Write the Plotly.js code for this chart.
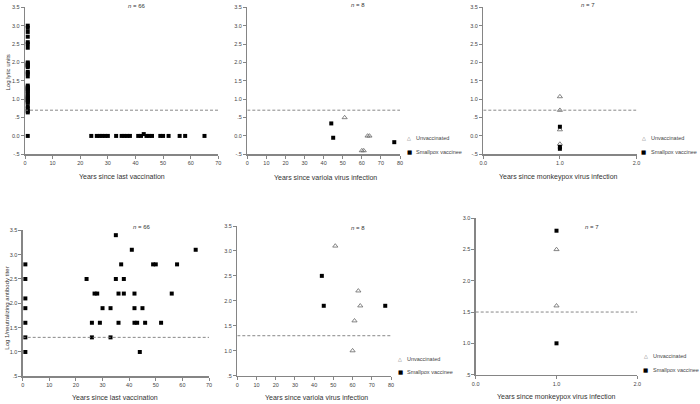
<!DOCTYPE html>
<html><head><meta charset="utf-8">
<script src="https://cdn.plot.ly/plotly-3.0.1.min.js"></script>
<style>html,body{margin:0;padding:0;background:#fff}#chart{width:700px;height:404px}</style>
</head><body><div id="chart"></div>
<script>
// ---- Data ----
// Panel A: vaccinees, log lytic units vs years since last vaccination
const vacLyticYears = [1,1,1,1,1,1,1,1,1,1,1,1,1,1,1,1,1,1,1,1,1,1,1,1,1,1,1,1,1,1,1,1,1,1,
  24,26,27,28,29,30,33,35,36,37,38,41,42,43,44,45,46,49,50,52,56,58,65];
const vacLyticVals = [3.0,2.94,2.83,2.7,2.55,2.5,2.4,2.0,1.97,1.93,1.9,1.87,1.74,1.7,1.62,
  1.37,1.33,1.3,1.27,1.23,1.2,1.15,1.1,1.07,1.03,1.0,0.97,0.93,0.9,0.8,0.75,0.68,0.64,0.0,
  0,0,0,0,0,0,0,0,0,0,0,0,0,0.05,0,0,0,0,0,0,0,0,0];
// Panel B: variola survivors, lytic units
const varUnvacYears = [51,63,64,61,60];
const varUnvacLytic = [0.5,0.0,0.0,-0.4,-0.4];
const varVacYears = [44,45,77];
const varVacLytic = [0.34,-0.05,-0.17];
// Panel C: monkeypox, lytic units
const mpxUnvacYears = [1,1,1,1];
const mpxUnvacLytic = [1.07,0.7,0.17,-0.22];
const mpxVacYears = [1,1,1];
const mpxVacLytic = [0.25,-0.3,-0.35];
// Panel D: vaccinees, log 1/neutralizing antibody titer
const vacNtYears = [1,1,1,1,1,1,1,24,26,26,27,28,29,30,33,33,35,35,36,36,37,38,38,41,42,42,42,43,44,45,46,49,50,52,56,58,65];
const vacNtVals = [2.8,2.5,2.1,1.9,1.6,1.3,1.0,2.5,1.6,1.3,2.2,2.2,1.6,1.9,1.9,1.3,3.4,2.5,2.2,1.6,2.8,2.5,2.2,3.1,2.2,1.9,1.6,1.6,1.0,1.9,1.6,2.8,2.8,1.6,2.2,2.8,3.1];
// Panel E: variola survivors, NT
const varUnvacNt = [3.1,2.2,1.9,1.6,1.0];
const varVacNt = [2.5,1.9,1.9];
// Panel F: monkeypox, NT
const mpxUnvacYearsNt = [1,1];
const mpxUnvacNt = [2.5,1.6];
const mpxVacYearsNt = [1,1];
const mpxVacNt = [2.8,1.0];
// cutoffs
const lyticCutoff = 0.7;
const ntCutoff = 1.3;
const mpxNtCutoff = 1.5;
// tick labels
const yTicksTop = [-0.5,0,0.5,1,1.5,2,2.5,3,3.5];
const yTextTop = ['-.5','0.0','.5','1.0','1.5','2.0','2.5','3.0','3.5'];
const yTicksBot = [0.5,1,1.5,2,2.5,3,3.5];
const yTextBot = ['.5','1.0','1.5','2.0','2.5','3.0','3.5'];
const yTicksMpx = [0.5,1,1.5,2,2.5,3];
const yTextMpx = ['.5','1.0','1.5','2.0','2.5','3.0'];
const x70 = [0,10,20,30,40,50,60,70];
const x80 = [0,10,20,30,40,50,60,70,80];
const x2 = [0,1,2];
const x2Text = ['0.0','1.0','2.0'];
const groupNames = ['Unvaccinated','Smallpox vaccinee'];
const groupGlyphs = ['\u25B3','\u25A0'];
const nLabels = ['<i>n</i> = 66','<i>n</i> = 8','<i>n</i> = 7','<i>n</i> = 66','<i>n</i> = 8','<i>n</i> = 7'];
const xTitles = ['Years since last vaccination','Years since variola virus infection','Years since monkeypox virus infection',
  'Years since last vaccination','Years since variola virus infection','Years since monkeypox virus infection'];
const yTitles = ['Log lytic units','Log 1/neutralizing antibody titer'];

// ---- Layout helpers ----
const W = 700, H = 404;
const px = v => v / W, py = v => 1 - v / H;
const AX = '#858585';
const FONT = 'Liberation Sans, Arial, sans-serif';
function axis(domain, range, vals, text, anchor) {
  return {domain, range, anchor, tickmode:'array', tickvals: vals, ticktext: text || vals.map(String),
    showline:true, linecolor:AX, linewidth:1.3, ticks:'outside', ticklen:3, tickwidth:1, tickcolor:AX,
    showgrid:false, zeroline:false, fixedrange:true, tickfont:{size:5.5, color:'#444', family:FONT}};
}
const sq = {symbol:'square', size:4, color:'#000'};
const tri = {symbol:'triangle-up-open', size:4.5, color:'#666', line:{width:0.8, color:'#666'}};
const common = {type:'scatter', mode:'markers', showlegend:false, cliponaxis:false};

const traces = [
  Object.assign({x: vacLyticYears, y: vacLyticVals, xaxis:'x', yaxis:'y', marker: sq, name:'Vaccinees'}, common),
  Object.assign({x: varUnvacYears, y: varUnvacLytic, xaxis:'x2', yaxis:'y2', marker: tri, name: groupNames[0]}, common),
  Object.assign({x: varVacYears, y: varVacLytic, xaxis:'x2', yaxis:'y2', marker: sq, name: groupNames[1]}, common),
  Object.assign({x: mpxUnvacYears, y: mpxUnvacLytic, xaxis:'x3', yaxis:'y3', marker: tri, name: groupNames[0]}, common),
  Object.assign({x: mpxVacYears, y: mpxVacLytic, xaxis:'x3', yaxis:'y3', marker: sq, name: groupNames[1]}, common),
  Object.assign({x: vacNtYears, y: vacNtVals, xaxis:'x4', yaxis:'y4', marker: sq, name:'Vaccinees'}, common),
  Object.assign({x: varUnvacYears, y: varUnvacNt, xaxis:'x5', yaxis:'y5', marker: tri, name: groupNames[0]}, common),
  Object.assign({x: varVacYears, y: varVacNt, xaxis:'x5', yaxis:'y5', marker: sq, name: groupNames[1]}, common),
  Object.assign({x: mpxUnvacYearsNt, y: mpxUnvacNt, xaxis:'x6', yaxis:'y6', marker: tri, name: groupNames[0]}, common),
  Object.assign({x: mpxVacYearsNt, y: mpxVacNt, xaxis:'x6', yaxis:'y6', marker: sq, name: groupNames[1]}, common)
];

const topY = [py(154.3), py(7.3)];
const dash = {color:'#7a7a7a', width:0.9, dash:'3px,2px'};

const layout = {
  width: W, height: H,
  margin: {l:0, r:0, t:0, b:0, autoexpand:false},
  paper_bgcolor:'#fff', plot_bgcolor:'#fff', showlegend:false,
  font: {family:FONT, color:'#333'},
  xaxis:  axis([px(25), px(218.3)], [0,70], x70, null, 'y'),
  yaxis:  axis(topY, [-0.5,3.5], yTicksTop, yTextTop, 'x'),
  xaxis2: axis([px(247.3), px(400)], [0,80], x80, null, 'y2'),
  yaxis2: axis(topY, [-0.5,3.5], yTicksTop, yTextTop, 'x2'),
  xaxis3: axis([px(483.3), px(636.5)], [0,2], x2, x2Text, 'y3'),
  yaxis3: axis(topY, [-0.5,3.5], yTicksTop, yTextTop, 'x3'),
  xaxis4: axis([px(22.7), px(209)], [0,70], x70, null, 'y4'),
  yaxis4: axis([py(376.3), py(230.3)], [0.5,3.5], yTicksBot, yTextBot, 'x4'),
  xaxis5: axis([px(237.3), px(391)], [0,80], x80, null, 'y5'),
  yaxis5: axis([py(375.6), py(226)], [0.5,3.5], yTicksBot, yTextBot, 'x5'),
  xaxis6: axis([px(475.7), px(637.3)], [0,2], x2, x2Text, 'y6'),
  yaxis6: axis([py(374.6), py(218.2)], [0.5,3.0], yTicksMpx, yTextMpx, 'x6'),
  shapes: [
    {type:'line', xref:'x',  yref:'y',  x0:0, x1:70, y0:lyticCutoff, y1:lyticCutoff, line:dash},
    {type:'line', xref:'x2', yref:'y2', x0:0, x1:80, y0:lyticCutoff, y1:lyticCutoff, line:dash},
    {type:'line', xref:'x3', yref:'y3', x0:0, x1:2,  y0:lyticCutoff, y1:lyticCutoff, line:dash},
    {type:'line', xref:'x4', yref:'y4', x0:0, x1:70, y0:ntCutoff, y1:ntCutoff, line:dash},
    {type:'line', xref:'x5', yref:'y5', x0:0, x1:80, y0:ntCutoff, y1:ntCutoff, line:dash},
    {type:'line', xref:'x6', yref:'y6', x0:0, x1:2,  y0:mpxNtCutoff, y1:mpxNtCutoff, line:dash}
  ],
  annotations: []
};

const nPos = [[137,6],[357.7,5],[587.7,5],[141.7,227.3],[358,227.7],[592,227]];
nPos.forEach((p,i) => layout.annotations.push({xref:'paper', yref:'paper', x:px(p[0]), y:py(p[1]), text:nLabels[i],
  showarrow:false, xanchor:'center', yanchor:'middle', font:{size:6, color:'#333'}}));
const xtPos = [[122,177],[325,178],[558,177],[114.6,397.7],[316.7,397.7],[556.7,397]];
xtPos.forEach((p,i) => layout.annotations.push({xref:'paper', yref:'paper', x:px(p[0]), y:py(p[1]), text:xTitles[i],
  showarrow:false, xanchor:'center', yanchor:'middle', font:{size:7, color:'#333'}}));
const ytPos = [[7.5,73],[6.7,308]];
ytPos.forEach((p,i) => layout.annotations.push({xref:'paper', yref:'paper', x:px(p[0]), y:py(p[1]), text:yTitles[i],
  showarrow:false, textangle:-90, xanchor:'center', yanchor:'middle', font:{size:6, color:'#333'}}));
// legends: [glyph x, text x, row1 y, row2 y]
const legPos = [[409,414,138,152],[643.5,648.5,138,152],[400,405,359,372],[645.7,650.7,355.7,370]];
legPos.forEach(p => {
  [0,1].forEach(k => {
    const yy = k === 0 ? p[2] : p[3];
    layout.annotations.push({xref:'paper', yref:'paper', x:px(p[0]), y:py(yy), text:groupGlyphs[k], showarrow:false,
      xanchor:'center', yanchor:'middle', font:{size: k === 0 ? 5 : 5.5, color: k === 0 ? '#666' : '#000', family:'DejaVu Sans'}});
    layout.annotations.push({xref:'paper', yref:'paper', x:px(p[1]), y:py(yy), text:groupNames[k], showarrow:false,
      xanchor:'left', yanchor:'middle', font:{size:5.5, color:'#444'}});
  });
});

Plotly.newPlot('chart', traces, layout, {displayModeBar:false, staticPlot:true});
</script>
</body></html>
